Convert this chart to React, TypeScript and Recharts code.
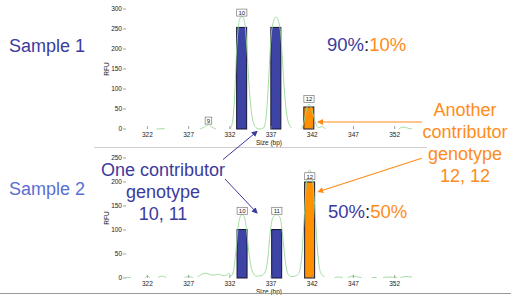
import React from "react";
import { ComposedChart, Bar, Line, XAxis, YAxis } from "recharts";

// allele sizes (bp) shared by both panels
const xTicks = [322, 327, 332, 337, 342, 347, 352];
const xDomain = [319.4, 354.1];

const topYTicks = [0, 50, 100, 150, 200, 250, 300];
const bottomYTicks = [0, 50, 100, 150, 200, 250];

// Sample 1: 90% major (10,11) : 10% minor (12,12)
const sample1Bars = [
  { bp: 333.45, rfu: 254, who: "major" },
  { bp: 337.6, rfu: 254, who: "major" },
  { bp: 341.6, rfu: 55, who: "minor" },
];
const sample1Alleles = [
  { bp: 329.4, rfu: 21, allele: "9" },
  { bp: 333.45, rfu: 291, allele: "10" },
  { bp: 341.6, rfu: 75, allele: "12" },
];
const sample1Trace = [
  { bp: 323.1, rfu: 0 }, { bp: 324.1, rfu: 1 }, { bp: 324.5, rfu: null },
  { bp: 328.4, rfu: 0 }, { bp: 328.9, rfu: 5 }, { bp: 329.4, rfu: 11 }, { bp: 329.8, rfu: 5 }, { bp: 330.3, rfu: 0 }, { bp: 330.8, rfu: null },
  { bp: 332.0, rfu: 0 }, { bp: 332.3, rfu: 15 }, { bp: 332.6, rfu: 90 }, { bp: 332.8, rfu: 190 }, { bp: 333.0, rfu: 250 },
  { bp: 333.2, rfu: 275 }, { bp: 333.45, rfu: 282 }, { bp: 333.7, rfu: 275 }, { bp: 333.9, rfu: 250 }, { bp: 334.1, rfu: 190 },
  { bp: 334.4, rfu: 90 }, { bp: 334.8, rfu: 20 }, { bp: 335.2, rfu: 3 }, { bp: 335.6, rfu: 0 },
  { bp: 336.1, rfu: 3 }, { bp: 336.4, rfu: 30 }, { bp: 336.7, rfu: 120 }, { bp: 336.9, rfu: 200 }, { bp: 337.1, rfu: 250 },
  { bp: 337.6, rfu: 280 }, { bp: 338.1, rfu: 250 }, { bp: 338.3, rfu: 200 }, { bp: 338.6, rfu: 100 }, { bp: 339.0, rfu: 25 },
  { bp: 339.5, rfu: 2 }, { bp: 340.0, rfu: null },
  { bp: 340.6, rfu: 0 }, { bp: 340.9, rfu: 10 }, { bp: 341.2, rfu: 40 }, { bp: 341.6, rfu: 62 }, { bp: 342.0, rfu: 45 },
  { bp: 342.4, rfu: 15 }, { bp: 342.8, rfu: 3 }, { bp: 343.2, rfu: 6 }, { bp: 343.6, rfu: 0 }, { bp: 344.0, rfu: null },
  { bp: 352.5, rfu: 0 }, { bp: 353.0, rfu: 5 }, { bp: 353.6, rfu: 2 }, { bp: 354.1, rfu: 0 },
];

// Sample 2: 50% : 50%
const sample2Bars = [
  { bp: 333.5, rfu: 101, who: "major" },
  { bp: 337.7, rfu: 101, who: "major" },
  { bp: 341.7, rfu: 200, who: "minor" },
];
const sample2Alleles = [
  { bp: 333.5, rfu: 140, allele: "10" },
  { bp: 337.7, rfu: 140, allele: "11" },
  { bp: 341.7, rfu: 212, allele: "12" },
];
const sample2Trace = [
  { bp: 319.4, rfu: 1 }, { bp: 320.0, rfu: 1 }, { bp: 320.5, rfu: null },
  { bp: 321.7, rfu: 0 }, { bp: 322.0, rfu: 4 }, { bp: 322.3, rfu: 0 }, { bp: 322.8, rfu: null },
  { bp: 323.3, rfu: 1 }, { bp: 323.8, rfu: 4 }, { bp: 324.3, rfu: 1 }, { bp: 325.0, rfu: null },
  { bp: 326.5, rfu: 1 }, { bp: 327.0, rfu: 3 }, { bp: 327.5, rfu: 1 }, { bp: 327.8, rfu: null },
  { bp: 328.1, rfu: 2 }, { bp: 328.6, rfu: 8 }, { bp: 329.1, rfu: 10 }, { bp: 329.6, rfu: 7 }, { bp: 330.1, rfu: 6 },
  { bp: 330.6, rfu: 8 }, { bp: 331.1, rfu: 5 }, { bp: 331.6, rfu: 6 }, { bp: 331.9, rfu: 10 }, { bp: 332.1, rfu: 4 },
  { bp: 332.4, rfu: 12 }, { bp: 332.7, rfu: 50 }, { bp: 333.0, rfu: 105 }, { bp: 333.2, rfu: 125 }, { bp: 333.5, rfu: 132 },
  { bp: 333.8, rfu: 125 }, { bp: 334.0, rfu: 105 }, { bp: 334.3, rfu: 55 }, { bp: 334.7, rfu: 15 }, { bp: 335.2, rfu: 4 },
  { bp: 335.8, rfu: 5 }, { bp: 336.2, rfu: 10 }, { bp: 336.6, rfu: 40 }, { bp: 336.9, rfu: 95 }, { bp: 337.2, rfu: 125 },
  { bp: 337.7, rfu: 132 }, { bp: 338.1, rfu: 125 }, { bp: 338.4, rfu: 90 }, { bp: 338.7, rfu: 40 }, { bp: 339.05, rfu: 8 },
  { bp: 339.5, rfu: 3 }, { bp: 339.9, rfu: 4 }, { bp: 340.3, rfu: 8 }, { bp: 340.7, rfu: 40 }, { bp: 341.0, rfu: 120 },
  { bp: 341.3, rfu: 200 }, { bp: 341.7, rfu: 225 }, { bp: 342.1, rfu: 195 }, { bp: 342.4, rfu: 120 }, { bp: 342.7, rfu: 45 },
  { bp: 343.0, rfu: 12 }, { bp: 343.5, rfu: 2 }, { bp: 344.0, rfu: null },
  { bp: 344.7, rfu: 1 }, { bp: 345.2, rfu: 2 }, { bp: 345.7, rfu: 1 }, { bp: 346.0, rfu: null },
  { bp: 346.3, rfu: 1 }, { bp: 347.0, rfu: 4 }, { bp: 347.6, rfu: 2 }, { bp: 348.0, rfu: 1 }, { bp: 348.6, rfu: null },
  { bp: 349.2, rfu: 1 }, { bp: 349.8, rfu: 1 }, { bp: 350.2, rfu: null },
  { bp: 350.6, rfu: 1 }, { bp: 351.4, rfu: 2 }, { bp: 352.3, rfu: 1 }, { bp: 352.5, rfu: null },
  { bp: 352.7, rfu: 1 }, { bp: 353.4, rfu: 3 }, { bp: 354.1, rfu: 2 },
];

const BLUE = "#3d44a5";
const ORANGE = "#ff8c1a";
const BAR_ORANGE = "#ff9100";
const AXIS = "#8a8a8a";
const TRACE = "#9ad89a";
const FONT = "'Liberation Sans', Arial, sans-serif";
const BAR_W = 10;

const BottomTick = (props: any) => {
  const { x, y, payload } = props;
  return (
    <g>
      <line x1={x} x2={x} y1={y} y2={y - 3} stroke={AXIS} strokeWidth={0.8} />
      <text x={x} y={y + 8} textAnchor="middle" fontSize={6.5} fill="#222" fontFamily={FONT}>
        {payload.value}
      </text>
    </g>
  );
};

const TopTick = (props: any) => {
  const { x, y } = props;
  return <line x1={x} x2={x} y1={y} y2={y + 3} stroke={AXIS} strokeWidth={0.8} />;
};

const RightTick = (props: any) => {
  const { x, y } = props;
  return <line x1={x - 3} x2={x} y1={y} y2={y} stroke={AXIS} strokeWidth={0.8} />;
};

// bar drawn at a fixed pixel width, centred on its bp position
const AlleleBar = (props: any) => {
  const { x, y, width, height, payload } = props;
  if (x == null || height == null) return <g />;
  const cx = x + width / 2;
  return (
    <rect
      x={cx - BAR_W / 2}
      y={y}
      width={BAR_W}
      height={height}
      fill={payload.who === "major" ? BLUE : BAR_ORANGE}
      stroke="#151530"
      strokeWidth={1}
    />
  );
};

const AlleleBox = (props: any) => {
  const { cx, cy, payload } = props;
  if (cx == null || cy == null) return <g />;
  const w = payload.allele.length * 3.6 + 3;
  return (
    <g>
      <rect x={cx - w / 2} y={cy - 3.5} width={w} height={7} fill="#fff" stroke="#777" strokeWidth={0.7} />
      <text x={cx} y={cy + 2.3} textAnchor="middle" fontSize={6} fill="#222" fontFamily={FONT}>
        {payload.allele}
      </text>
    </g>
  );
};

function Panel({ bars, trace, alleles, yTicks, height, top, marginTop, xAxisHeight }: any) {
  const yMax = yTicks[yTicks.length - 1];
  return (
    <div style={{ position: "absolute", left: 0, top, width: 511, height }}>
      <ComposedChart width={511} height={height} data={bars} margin={{ top: marginTop, right: 99, bottom: 0, left: 0 }}>
        <XAxis
          dataKey="bp"
          type="number"
          domain={xDomain}
          ticks={xTicks}
          allowDataOverflow
          height={xAxisHeight}
          axisLine={false}
          tickLine={false}
          tickSize={0}
          tickMargin={0}
          tick={<BottomTick />}
          interval={0}
          label={{
            content: (p: any) => {
              const vb = p.viewBox;
              return (
                <text x={vb.x + vb.width / 2} y={vb.y + 15.5} textAnchor="middle" fontSize={6.5} fill="#222" fontFamily={FONT}>
                  Size (bp)
                </text>
              );
            },
          }}
        />
        <XAxis
          xAxisId="top"
          orientation="top"
          type="number"
          domain={xDomain}
          ticks={xTicks}
          allowDataOverflow
          height={0}
          axisLine={{ stroke: AXIS, strokeWidth: 0.8 }}
          tickLine={false}
          tickSize={0}
          tickMargin={0}
          tick={<TopTick />}
          interval={0}
        />
        <YAxis
          type="number"
          domain={[0, yMax]}
          ticks={yTicks}
          width={126}
          axisLine={false}
          tickLine={{ stroke: AXIS, strokeWidth: 0.8 }}
          tickSize={3}
          tickMargin={1}
          tick={{ fontSize: 6.5, fill: "#222", fontFamily: FONT }}
          interval={0}
          label={{
            content: (p: any) => {
              const vb = p.viewBox;
              const cx = vb.x + vb.width - 19.5;
              const cy = vb.y + vb.height / 2;
              return (
                <text transform={`translate(${cx},${cy}) rotate(-90)`} textAnchor="middle" dominantBaseline="central" fontSize={6.5} fill="#222" fontFamily={FONT}>
                  RFU
                </text>
              );
            },
          }}
        />
        <YAxis
          yAxisId="right"
          orientation="right"
          type="number"
          domain={[0, yMax]}
          ticks={yTicks}
          width={0}
          axisLine={{ stroke: AXIS, strokeWidth: 0.8 }}
          tickLine={false}
          tickSize={0}
          tickMargin={0}
          tick={<RightTick />}
          interval={0}
        />
        <Line
          data={trace}
          dataKey="rfu"
          type="monotone"
          stroke={TRACE}
          strokeWidth={0.9}
          dot={false}
          activeDot={false}
          isAnimationActive={false}
        />
        <Bar dataKey="rfu" shape={AlleleBar} isAnimationActive={false} />
        <Line
          data={alleles}
          dataKey="rfu"
          stroke="none"
          dot={<AlleleBox />}
          activeDot={false}
          isAnimationActive={false}
        />
      </ComposedChart>
    </div>
  );
}

const textBase: React.CSSProperties = {
  position: "absolute",
  fontFamily: FONT,
  fontSize: 18,
  lineHeight: "22px",
  whiteSpace: "nowrap",
};

export default function App() {
  return (
    <div style={{ position: "absolute", left: 0, top: 0, width: 511, height: 295, background: "#fff", overflow: "hidden" }}>
      <Panel bars={sample1Bars} trace={sample1Trace} alleles={sample1Alleles} yTicks={topYTicks} height={150} top={0} marginTop={9} xAxisHeight={21} />
      <Panel bars={sample2Bars} trace={sample2Trace} alleles={sample2Alleles} yTicks={bottomYTicks} height={147} top={148} marginTop={10} xAxisHeight={17} />

      {/* slide separators */}
      <div style={{ position: "absolute", left: 94, top: 146.5, width: 333, height: 1, background: "#cfcfcf" }} />
      <div style={{ position: "absolute", left: 0, top: 293, width: 511, height: 1, background: "#9a9a9a" }} />

      <div style={{ ...textBase, left: 9, top: 35, color: "#3b3b9e" }}>Sample 1</div>
      <div style={{ ...textBase, left: 9, top: 178, color: "#5a6fd2" }}>Sample 2</div>

      <div style={{ ...textBase, left: 327, top: 34, fontSize: 18.5 }}>
        <span style={{ color: "#3b3b9e" }}>90%</span>
        <span style={{ color: "#111" }}>:</span>
        <span style={{ color: ORANGE }}>10%</span>
      </div>
      <div style={{ ...textBase, left: 328, top: 200.5, fontSize: 18.5 }}>
        <span style={{ color: "#3b3b9e" }}>50%</span>
        <span style={{ color: "#111" }}>:</span>
        <span style={{ color: ORANGE }}>50%</span>
      </div>

      <div style={{ ...textBase, left: 63, width: 200, top: 159, textAlign: "center", color: "#3b3b9e" }}>
        One contributor
        <br />
        genotype
        <br />
        10, 11
      </div>
      <div style={{ ...textBase, left: 415, width: 100, top: 99, textAlign: "center", color: ORANGE }}>
        Another
        <br />
        contributor
        <br />
        genotype
        <br />
        12, 12
      </div>

      {/* annotation arrows */}
      <svg width={511} height={295} style={{ position: "absolute", left: 0, top: 0, pointerEvents: "none" }}>
        <defs>
          <marker id="headBlue" markerWidth="6" markerHeight="6" refX="5" refY="3" orient="auto" markerUnits="userSpaceOnUse">
            <path d="M0,0 L6,3 L0,6 z" fill="#3b3b9e" />
          </marker>
          <marker id="headOrange" markerWidth="6" markerHeight="6" refX="5" refY="3" orient="auto" markerUnits="userSpaceOnUse">
            <path d="M0,0 L6,3 L0,6 z" fill={ORANGE} />
          </marker>
        </defs>
        <line x1={223} y1={159.5} x2={257} y2={131.5} stroke="#3b3b9e" strokeWidth={1} markerEnd="url(#headBlue)" />
        <line x1={225} y1={179} x2={257} y2={213} stroke="#3b3b9e" strokeWidth={1} markerEnd="url(#headBlue)" />
        <line x1={422} y1={122} x2={318} y2={122} stroke={ORANGE} strokeWidth={1.2} markerEnd="url(#headOrange)" />
        <line x1={421.7} y1={158.3} x2={318.3} y2={191.7} stroke={ORANGE} strokeWidth={1.2} markerEnd="url(#headOrange)" />
      </svg>
    </div>
  );
}
